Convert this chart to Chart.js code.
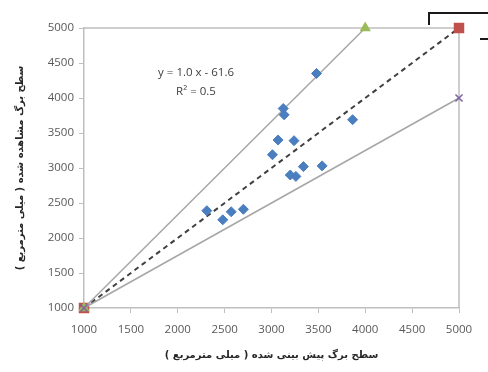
<!DOCTYPE html>
<html>
<head>
<meta charset="utf-8">
<script src="https://cdn.jsdelivr.net/npm/chart.js@4"></script>
<style>
  html, body { margin: 0; padding: 0; background: #fff; }
  #wrap { width: 488px; height: 372px; position: relative; }
</style>
</head>
<body>
<div id="wrap"><canvas id="leafChart"></canvas></div>
<script>
// ---------- Data ----------
const predicted = [3480, 3125, 3135, 3070, 3240, 3010, 3865, 3340, 3540, 3200, 3260, 2700, 2570, 2480, 2310];
const observed  = [4350, 3850, 3760, 3400, 3390, 3190, 3690, 3020, 3030, 2900, 2880, 2410, 2375, 2260, 2390];

// reference lines: 1:1, upper bound and lower bound
const oneToOneX = [1000, 5000];
const oneToOneY = [1000, 5000];
const upperX = [1000, 4000];
const upperY = [1000, 5000];
const lowerX = [1000, 5000];
const lowerY = [1000, 4000];

const axisTicks = [1000, 1500, 2000, 2500, 3000, 3500, 4000, 4500, 5000];

const xTitle = "سطح برگ پیش بینی شده ( میلی مترمربع )";
const yTitle = "سطح برگ مشاهده شده ( میلی مترمربع )";
const fitLines = ["y = 1.0 x - 61.6", "R² = 0.5"];
const fitAt = { x: 2195, y: 4357 };

const toPoints = (xs, ys) => xs.map((x, i) => ({ x: x, y: ys[i] }));

// ---------- Helpers ----------
// frame on top/right of plot area + trend label
const plotExtras = {
  id: "plotExtras",
  beforeDatasetsDraw(chart) {
    const { ctx, chartArea: a } = chart;
    ctx.save();
    ctx.strokeStyle = "#bfbfbf";
    ctx.lineWidth = 1.5;
    ctx.beginPath();
    ctx.moveTo(a.left, a.top);
    ctx.lineTo(a.right, a.top);
    ctx.lineTo(a.right, a.bottom);
    ctx.stroke();
    ctx.restore();
  },
  afterDraw(chart) {
    const { ctx, scales } = chart;
    ctx.save();
    ctx.fillStyle = "#404040";
    ctx.font = "11.5px 'Open Sans', sans-serif";
    ctx.textAlign = "center";
    ctx.textBaseline = "middle";
    const px = scales.x.getPixelForValue(fitAt.x);
    const py = scales.y.getPixelForValue(fitAt.y);
    ctx.fillText(fitLines[0], px, py);
    ctx.fillText(fitLines[1], px, py + 19);

    // edge of the legend box peeking in at the top right
    ctx.strokeStyle = "#1a1a1a";
    ctx.lineWidth = 2;
    ctx.beginPath();
    ctx.moveTo(429, 25);
    ctx.lineTo(429, 13);
    ctx.lineTo(488, 13);
    ctx.moveTo(480, 39);
    ctx.lineTo(488, 39);
    ctx.stroke();
    ctx.restore();
  }
};

const tickFont = { family: "'Open Sans', sans-serif", size: 11.5 };

function axis(title, width, height, tickPad, titlePad) {
  return {
    type: "linear",
    min: 1000,
    max: 5000,
    afterBuildTicks: s => { s.ticks = axisTicks.map(v => ({ value: v })); },
    afterFit: s => {
      if (width) s.width = width;
      if (height) s.height = height;
    },
    grid: { drawOnChartArea: false, drawTicks: true, tickLength: 5, color: "#bfbfbf" },
    border: { display: true, color: "#bfbfbf", width: 1.5 },
    ticks: {
      color: "#595959",
      font: tickFont,
      padding: tickPad,
      maxRotation: 0,
      callback: v => String(v)
    },
    title: {
      display: true,
      text: title,
      color: "#262626",
      font: { family: "'DejaVu Sans', sans-serif", size: 10, weight: "bold" },
      padding: titlePad
    }
  };
}

// ---------- Chart ----------
function initChart() {
  const ctx = document.getElementById("leafChart");
  new Chart(ctx, {
    type: "scatter",
    data: {
      datasets: [
        {
          label: "observed",
          data: toPoints(predicted, observed),
          pointStyle: "rectRot",
          pointRadius: 5,
          backgroundColor: "#4a7ebf",
          borderColor: "#4a7ebf",
          clip: false,
          order: 0
        },
        {
          label: "1:1",
          data: toPoints(oneToOneX, oneToOneY),
          showLine: true,
          borderColor: "#404040",
          borderWidth: 2,
          borderDash: [5, 4],
          pointStyle: "rect",
          pointRadius: 6,
          backgroundColor: "#c0504d",
          pointBorderColor: "#c0504d",
          clip: false,
          order: 3
        },
        {
          label: "upper",
          data: toPoints(upperX, upperY),
          showLine: true,
          borderColor: "#a6a6a6",
          borderWidth: 1.5,
          pointStyle: "triangle",
          pointRadius: 5,
          backgroundColor: "#9bbb59",
          pointBorderColor: "#9bbb59",
          clip: false,
          order: 2
        },
        {
          label: "lower",
          data: toPoints(lowerX, lowerY),
          showLine: true,
          borderColor: "#a6a6a6",
          borderWidth: 1.5,
          pointStyle: "crossRot",
          pointRadius: 5,
          pointBorderWidth: 1.5,
          pointBorderColor: "#7d60a0",
          backgroundColor: "#7d60a0",
          clip: false,
          order: 1
        }
      ]
    },
    options: {
      responsive: true,
      maintainAspectRatio: false,
      animation: false,
      layout: { padding: { top: 28, right: 29, left: 4, bottom: 0 } },
      plugins: {
        legend: { display: false },
        tooltip: { enabled: false }
      },
      scales: {
        x: axis(xTitle, 0, 64, 10, { top: 4, bottom: 11 }),
        y: axis(yTitle, 80, 0, 5, { top: 10, bottom: 4 })
      }
    },
    plugins: [plotExtras]
  });
}

document.addEventListener("DOMContentLoaded", initChart);
</script>
</body>
</html>
